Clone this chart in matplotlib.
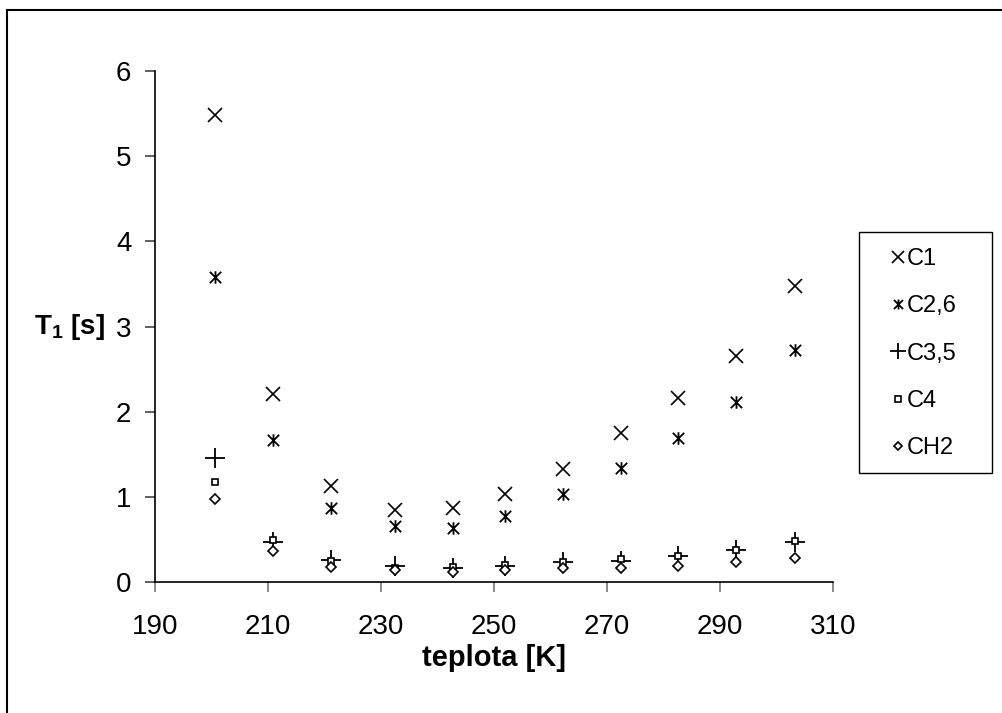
import matplotlib
matplotlib.use("Agg")
import matplotlib.pyplot as plt
from matplotlib.path import Path
from matplotlib.lines import Line2D
from matplotlib.patches import Rectangle

plt.rcParams["font.family"] = ["Liberation Sans", "DejaVu Sans"]
plt.rcParams["mathtext.fontset"] = "custom"
plt.rcParams["mathtext.bf"] = "Liberation Sans:bold"
plt.rcParams["mathtext.rm"] = "Liberation Sans"

# teplota [K]
teplota = [200.6, 210.8, 221.1, 232.5, 242.7, 251.9, 262.2, 272.4, 282.6, 292.9, 303.3]

# relaxacni casy T1 [s]
c1 = [5.48, 2.21, 1.13, 0.85, 0.87, 1.03, 1.33, 1.75, 2.16, 2.65, 3.47]
c26 = [3.58, 1.67, 0.87, 0.66, 0.63, 0.77, 1.03, 1.34, 1.69, 2.11, 2.72]
c35 = [1.46, 0.47, 0.26, 0.19, 0.16, 0.19, 0.24, 0.25, 0.31, 0.37, 0.47]
c4 = [1.17, 0.49, 0.25, 0.17, 0.18, 0.20, 0.23, 0.27, 0.31, 0.38, 0.48]
ch2 = [0.97, 0.36, 0.18, 0.14, 0.12, 0.14, 0.16, 0.17, 0.19, 0.23, 0.28]

xticks = [190, 210, 230, 250, 270, 290, 310]
yticks = [0, 1, 2, 3, 4, 5, 6]

W, H = 1002, 713

# hvezdicka: krizek se svislou carou
star = Path([(-1, -1), (1, 1), (-1, 1), (1, -1), (0, -1.1), (0, 1.1)],
            [Path.MOVETO, Path.LINETO, Path.MOVETO, Path.LINETO, Path.MOVETO, Path.LINETO])

fig = plt.figure(figsize=(W / 100, H / 100), dpi=100)
ax = fig.add_axes([155 / W, 1 - 582 / H, 678 / W, 511 / H])

mk = dict(linestyle="none", color="black", markerfacecolor="white", markeredgecolor="black")
ax.plot(teplota, c1, marker="x", markersize=10, markeredgewidth=1.2, label="C1", **mk)
ax.plot(teplota, c26, marker=star, markersize=9, markeredgewidth=1.3, label="C2,6", **mk)
ax.plot(teplota, c35, marker="+", markersize=15, markeredgewidth=1.3, label="C3,5", **mk)
ax.plot(teplota, c4, marker="s", markersize=5, markeredgewidth=1.2, label="C4", **mk)
ax.plot(teplota, ch2, marker="D", markersize=5, markeredgewidth=1.2, label="CH2", **mk)

ax.set_xlim(190, 310)
ax.set_ylim(0, 6)
ax.set_xticks(xticks)
ax.set_yticks(yticks)
ax.spines["top"].set_visible(False)
ax.spines["right"].set_visible(False)
ax.spines["left"].set_linewidth(1.2)
ax.spines["bottom"].set_linewidth(1.2)
ax.tick_params(axis="x", direction="out", length=7, width=1.2, color="#777777", labelsize=20, pad=16)
ax.tick_params(axis="y", direction="out", length=7, width=1.2, color="#444444", labelsize=20, pad=10)

ax.set_xlabel("teplota [K]", fontsize=21, fontweight="bold")
ax.xaxis.set_label_coords(0.5, -0.149)
ax.xaxis.label.set_va("center")
ax.set_ylabel(r"$\mathbf{T_1}$ [s]", fontsize=20, fontweight="bold", rotation=0, ha="right", va="center")
ax.yaxis.set_label_coords(-0.074, 0.5)

# legenda bez vlastniho ramecku, ramecek kreslime zvlast
leg = ax.legend(loc="upper left", bbox_to_anchor=(890.5 / W, 1 - 248 / H),
                bbox_transform=fig.transFigure, fontsize=17, frameon=False,
                markerscale=0.8, handlelength=0.6, handletextpad=0.1, labelspacing=1.07,
                borderpad=0, borderaxespad=0)
fig.add_artist(Rectangle((859 / W, 1 - 473 / H), 133 / W, 241 / H, transform=fig.transFigure,
                         fill=False, edgecolor="black", linewidth=1.0))

# ramecek grafu (horni a leva hrana)
fig.add_artist(Line2D([7 / W, 7 / W], [0, 1 - 10 / H], transform=fig.transFigure, color="black", linewidth=1.5))
fig.add_artist(Line2D([7 / W, 1], [1 - 10 / H, 1 - 10 / H], transform=fig.transFigure, color="black", linewidth=1.5))

fig.savefig("out.png", dpi=100)
